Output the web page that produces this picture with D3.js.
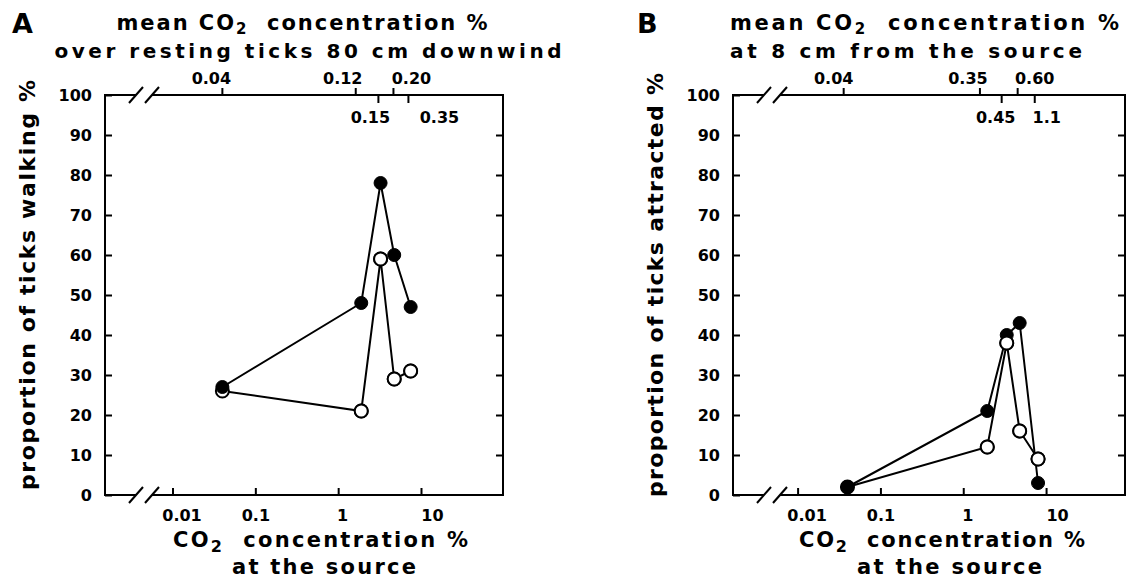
<!DOCTYPE html>
<html><head><meta charset="utf-8">
<script src="https://cdn.jsdelivr.net/npm/d3@7"></script>
<style>
html,body{margin:0;padding:0;background:#fff;}
svg{display:block;}
text{font-family:"DejaVu Sans",sans-serif;font-weight:bold;fill:#000;white-space:pre;}
</style></head><body>
<svg id="chart" width="1128" height="578"></svg>
<script>
// ---------- data ----------
const sourceA = [0.04, 1.9, 3.25, 4.75, 7.5];          // CO2 % at the source (panel A)
const walkingFilledA = [27, 48, 78, 60, 47];
const walkingOpenA   = [26, 21, 59, 29, 31];
const sourceB = [0.04, 1.95, 3.35, 4.8, 8.0];          // CO2 % at the source (panel B)
const attractedFilledB = [2, 21, 40, 43, 3];
const attractedOpenB   = [2, 12, 38, 16, 9];
const bottomTicks = [0.01, 0.1, 1, 10];
const bottomTickLabels = ["0.01", "0.1", "1", "10"];
const yTicks = [0, 10, 20, 30, 40, 50, 60, 70, 80, 90, 100];
const topTickSourceA = [0.04, 1.63, 3.06, 4.65, 7.05];
const topTickLabelsA = ["0.04", "0.12", "0.15", "0.20", "0.35"];
const topTickSourceB = [0.036, 1.59, 2.91, 4.54, 7.3];
const topTickLabelsB = ["0.04", "0.35", "0.45", "0.60", "1.1"];

// ---------- layout ----------
const svg = d3.select("#chart");
const yTop = 95, yBottom = 495;
const y = d3.scaleLinear().domain([0, 100]).range([yBottom, yTop]);

const panels = [
  { letter: "A", left: 105, right: 503, expLo: -2.815, expHi: 1.99,
    source: sourceA, filled: walkingFilledA, open: walkingOpenA,
    topPos: topTickSourceA, topLabels: topTickLabelsA,
    topBelow: [false, false, true, false, true], topDx: [-11, -13, -8, 18, 31],
    letterX: 12, title1: {x: 302, anchor: "middle", len: 371}, title2: {x: 308, anchor: "middle", len: 507},
    t2text: "over resting ticks 80 cm downwind",
    ylabel: "proportion of ticks walking %", ylab: {cy: 285, len: 410},
    xt1: {x: 173, len: 295}, xt2: {x: 232, len: 184} },
  { letter: "B", left: 733, right: 1125, expLo: -2.78, expHi: 1.953,
    source: sourceB, filled: attractedFilledB, open: attractedOpenB,
    topPos: topTickSourceB, topLabels: topTickLabelsB,
    topBelow: [false, false, true, false, true], topDx: [-10, -12, -6, 17, 12],
    letterX: 637, title1: {x: 730, anchor: "start", len: 389}, title2: {x: 730, anchor: "start", len: 352},
    t2text: "at 8 cm from the source",
    ylabel: "proportion of ticks attracted %", ylab: {cy: 285, len: 424},
    xt1: {x: 799, len: 286}, xt2: {x: 857, len: 185} }
];
const bottomLabelDx = [9, 0, 4, 11];

panels.forEach(p => {
  const x = d3.scaleLog().domain([Math.pow(10, p.expLo), Math.pow(10, p.expHi)]).range([p.left, p.right]);
  const g = svg.append("g");

  // frame with axis breaks
  const b1 = p.left + 31, b2 = p.left + 47;
  const frame = g.append("g").attr("stroke", "#000").attr("stroke-width", 2).attr("fill", "none");
  frame.append("path").attr("d", `M${b1},${yTop}H${p.left}V${yBottom}H${b1}`);
  frame.append("path").attr("d", `M${b2},${yTop}H${p.right}V${yBottom}H${b2}`);
  [yTop, yBottom].forEach(yy => {
    [b1, b2].forEach(bx => {
      frame.append("line").attr("x1", bx - 7).attr("y1", yy + 8).attr("x2", bx + 7).attr("y2", yy - 8);
    });
  });

  // bottom axis
  const gb = g.append("g").attr("transform", `translate(0,${yBottom})`)
    .call(d3.axisBottom(x).tickValues(bottomTicks).tickFormat((d, i) => bottomTickLabels[i]).tickSize(-7).tickPadding(15));
  gb.select(".domain").remove();
  gb.selectAll(".tick line").attr("stroke", "#000").attr("stroke-width", 2);
  gb.selectAll(".tick text").attr("font-size", 16).attr("dx", (d, i) => bottomLabelDx[i]);

  // left axis
  const gl = g.append("g").attr("transform", `translate(${p.left},0)`)
    .call(d3.axisLeft(y).tickValues(yTicks).tickSize(-7).tickPadding(13));
  gl.select(".domain").remove();
  gl.selectAll(".tick line").attr("stroke", "#000").attr("stroke-width", 2);
  gl.selectAll(".tick text").attr("font-size", 16);

  // right axis (ticks only)
  const gr = g.append("g").attr("transform", `translate(${p.right},0)`)
    .call(d3.axisRight(y).tickValues(yTicks.slice(1, -1)).tickSize(-7).tickFormat(""));
  gr.select(".domain").remove();
  gr.selectAll(".tick line").attr("stroke", "#000").attr("stroke-width", 2);

  // top axis: mean concentration labels at source positions
  const gt = g.append("g");
  p.topPos.forEach((v, i) => {
    const xx = x(v), below = p.topBelow[i];
    gt.append("line").attr("x1", xx).attr("x2", xx)
      .attr("y1", yTop).attr("y2", below ? yTop + 8 : yTop - 7)
      .attr("stroke", "#000").attr("stroke-width", 2);
    gt.append("text").attr("x", xx + p.topDx[i]).attr("y", below ? yTop + 28 : yTop - 11)
      .attr("text-anchor", "middle").attr("font-size", 16).text(p.topLabels[i]);
  });

  // series
  const line = d3.line().x((d, i) => x(p.source[i])).y(d => y(d));
  g.append("path").datum(p.open).attr("d", line).attr("fill", "none").attr("stroke", "#000").attr("stroke-width", 2);
  g.append("path").datum(p.filled).attr("d", line).attr("fill", "none").attr("stroke", "#000").attr("stroke-width", 2);
  const drawOpen = (sel) => sel.attr("cx", d => x(p.source[d])).attr("cy", d => y(p.open[d])).attr("r", 6.5)
      .attr("fill", "#fff").attr("stroke", "#000").attr("stroke-width", 2);
  g.append("g").selectAll("circle").data(d3.range(p.open.length)).join("circle").call(drawOpen);
  g.append("g").selectAll("circle").data(d3.range(p.filled.length)).join("circle")
    .attr("cx", d => x(p.source[d])).attr("cy", d => y(p.filled[d])).attr("r", 6.5)
    .attr("fill", "#000").attr("stroke", "#000").attr("stroke-width", 1);
  g.append("g").selectAll("circle").data(d3.range(1, p.open.length)).join("circle").call(drawOpen);

  // panel letter
  g.append("text").attr("x", p.letterX).attr("y", 33).attr("font-size", 27).text(p.letter);

  // top titles
  const t1 = g.append("text").attr("x", p.title1.x).attr("y", 30).attr("font-size", 21)
    .attr("text-anchor", p.title1.anchor).attr("textLength", p.title1.len).attr("lengthAdjust", "spacing");
  t1.append("tspan").text("mean CO");
  t1.append("tspan").attr("dy", 4).attr("font-size", 15).text("2");
  t1.append("tspan").attr("dy", -4).text("  concentration %");
  g.append("text").attr("x", p.title2.x).attr("y", 58).attr("font-size", 20)
    .attr("text-anchor", p.title2.anchor).attr("textLength", p.title2.len).attr("lengthAdjust", "spacing")
    .text(p.t2text);

  // x-axis title
  const xt = g.append("text").attr("x", p.xt1.x).attr("y", 547).attr("font-size", 21)
    .attr("textLength", p.xt1.len).attr("lengthAdjust", "spacing");
  xt.append("tspan").text("CO");
  xt.append("tspan").attr("dy", 5).attr("font-size", 16).text("2");
  xt.append("tspan").attr("dy", -5).text("  concentration %");
  g.append("text").attr("x", p.xt2.x).attr("y", 574).attr("font-size", 21)
    .attr("textLength", p.xt2.len).attr("lengthAdjust", "spacing").text("at the source");

  // y-axis title
  g.append("text").attr("transform", `translate(${p.left - 70},${p.ylab.cy}) rotate(-90)`)
    .attr("text-anchor", "middle").attr("font-size", 22)
    .attr("textLength", p.ylab.len).attr("lengthAdjust", "spacing").text(p.ylabel);
});
</script>
</body></html>
